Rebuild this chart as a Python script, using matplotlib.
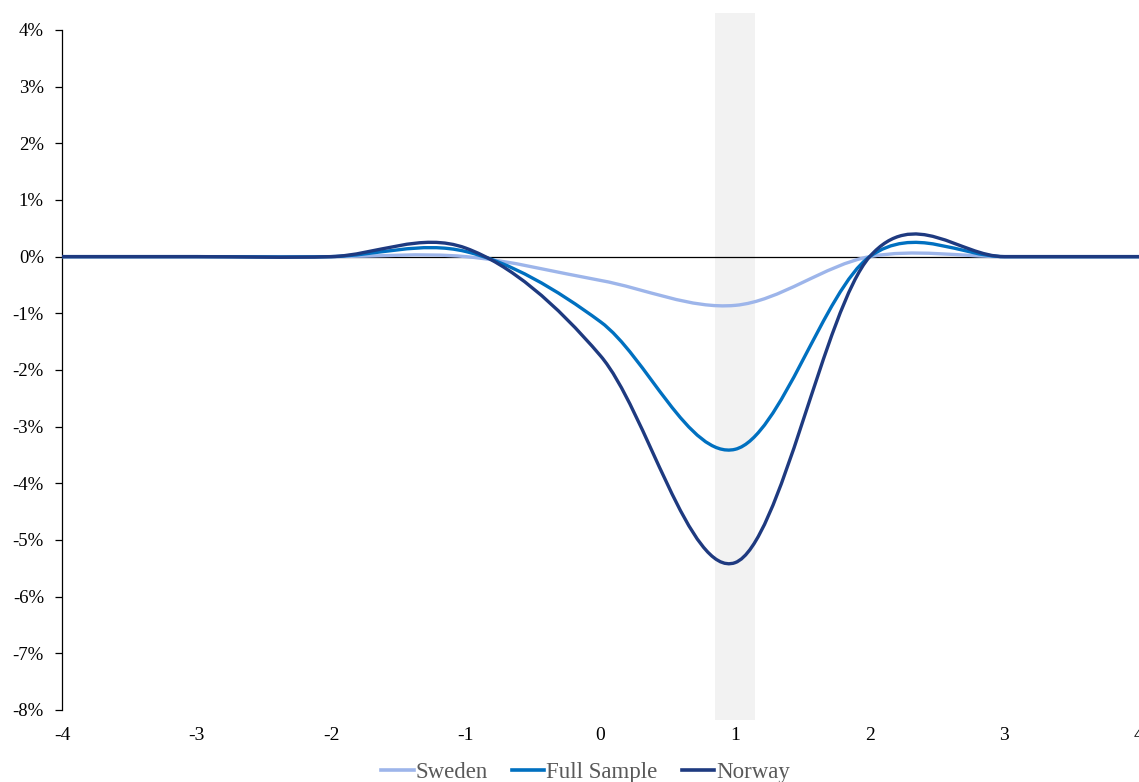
import matplotlib
matplotlib.use("Agg")
import matplotlib.pyplot as plt
from matplotlib.path import Path
from matplotlib.patches import PathPatch, Rectangle
from matplotlib.lines import Line2D
from matplotlib.ticker import FuncFormatter

plt.rcParams['font.family'] = ['Liberation Serif', 'DejaVu Serif']
plt.rcParams['axes.unicode_minus'] = False

# event time (years) and average effect in percent
years = [-4, -3, -2, -1, 0, 1, 2, 3, 4]
sweden = [0.0, 0.0, 0.0, 0.0, -0.42, -0.86, 0.0, 0.0, 0.0]
full_sample = [0.0, 0.0, 0.0, 0.09, -1.15, -3.40, 0.0, 0.0, 0.0]
norway = [0.0, 0.0, 0.0, 0.15, -1.75, -5.40, 0.0, 0.0, 0.0]

series = [
    ("Sweden", sweden, "#9DB5EA"),
    ("Full Sample", full_sample, "#0070C0"),
    ("Norway", norway, "#1E3A80"),
]

# shaded treatment window
band = (0.85, 1.15)


def smooth_path(xs, ys):
    # spreadsheet-style smoothed line: cubic bezier through every point
    verts = [(xs[0], ys[0])]
    codes = [Path.MOVETO]
    n = len(xs)
    for i in range(n - 1):
        x0, y0 = xs[max(i - 1, 0)], ys[max(i - 1, 0)]
        x1, y1 = xs[i], ys[i]
        x2, y2 = xs[i + 1], ys[i + 1]
        x3, y3 = xs[min(i + 2, n - 1)], ys[min(i + 2, n - 1)]
        c1 = (x1 + (x2 - x0) / 6, y1 + (y2 - y0) / 6)
        c2 = (x2 - (x3 - x1) / 6, y2 - (y3 - y1) / 6)
        verts += [c1, c2, (x2, y2)]
        codes += [Path.CURVE4] * 3
    return Path(verts, codes)


fig = plt.figure(figsize=(11.39, 7.82), dpi=100)
ax = fig.add_axes([0.0544, 0.0921, 0.9456, 0.8696])

ax.add_patch(Rectangle((band[0], -8.18), band[1] - band[0], 12.48,
                       facecolor="#F2F2F2", edgecolor="none", zorder=0, clip_on=False))
ax.axhline(0, color="black", lw=0.9, zorder=1)

handles = []
for name, vals, col in series:
    ax.add_patch(PathPatch(smooth_path(years, vals), fill=False, edgecolor=col,
                           lw=2.4, capstyle="round", joinstyle="round", zorder=3))
    handles.append(Line2D([], [], color=col, lw=2.6))

ax.set_xlim(-4, 4)
ax.set_ylim(-8, 4)
ax.set_xticks(years)
ax.set_yticks(range(-8, 5))
ax.yaxis.set_major_formatter(FuncFormatter(lambda v, p: f"{v:.0f}%"))

for s in ["top", "right", "bottom"]:
    ax.spines[s].set_visible(False)
ax.spines["left"].set_linewidth(0.9)
ax.tick_params(axis="y", direction="out", length=5, width=0.9, pad=8, labelsize=13.5)
ax.tick_params(axis="x", length=0, pad=12, labelsize=14)

fig.legend(handles, [s[0] for s in series], loc="center", bbox_to_anchor=(0.514, 0.012),
           ncol=3, frameon=False, fontsize=16.5, labelcolor="#595959",
           handlelength=1.42, handletextpad=0.08, columnspacing=1.05)

fig.savefig("out.png", dpi=100)
